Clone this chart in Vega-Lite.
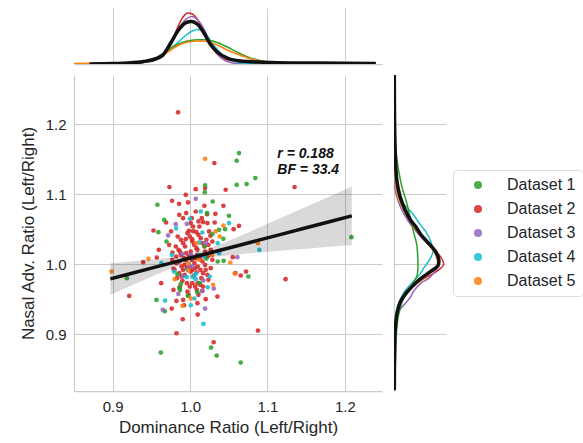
{
  "$schema": "https://vega.github.io/schema/vega-lite/v6.json",
  "padding": {"left": 19, "top": 8, "right": 5, "bottom": 5},
  "background": "white",
  "config": {
    "font": "Liberation Sans",
    "view": {"stroke": null},
    "axis": {
      "labelFont": "Liberation Sans", "titleFont": "Liberation Sans",
      "labelColor": "#262626", "titleColor": "#262626",
      "gridColor": "#cccccc", "domainColor": "#cccccc",
      "labelFontSize": 15, "titleFontSize": 17, "titleFontWeight": "normal",
      "ticks": false, "labelPadding": 8, "gridWidth": 1, "domainWidth": 1.25
    }
  },
  "datasets": {
    "pts": [
      {"x":0.9845,"y":1.2167,"g":"Dataset 2"},{"x":1.0314,"y":1.1443,"g":"Dataset 2"},{"x":0.9733,"y":1.110,"g":"Dataset 2"},{"x":1.0073,"y":1.1071,"g":"Dataset 2"},{"x":1.0194,"y":1.1086,"g":"Dataset 2"},{"x":1.046,"y":1.1062,"g":"Dataset 2"},{"x":1.135,"y":1.110,"g":"Dataset 2"},{"x":0.9944,"y":1.099,"g":"Dataset 2"},{"x":0.9768,"y":1.0905,"g":"Dataset 2"},{"x":0.9858,"y":1.0862,"g":"Dataset 2"},{"x":0.9974,"y":1.0881,"g":"Dataset 2"},{"x":1.0185,"y":1.0833,"g":"Dataset 2"},{"x":1.043,"y":1.0833,"g":"Dataset 2"},{"x":1.0219,"y":1.0714,"g":"Dataset 2"},{"x":1.0327,"y":1.0719,"g":"Dataset 2"},{"x":1.0022,"y":1.0657,"g":"Dataset 2"},{"x":0.969,"y":1.0595,"g":"Dataset 2"},{"x":1.0318,"y":1.0595,"g":"Dataset 2"},{"x":1.0632,"y":1.0548,"g":"Dataset 2"},{"x":1.012,"y":1.0538,"g":"Dataset 2"},{"x":0.9527,"y":1.0481,"g":"Dataset 2"},{"x":0.9755,"y":1.0467,"g":"Dataset 2"},{"x":0.9983,"y":1.0476,"g":"Dataset 2"},{"x":1.0039,"y":1.0471,"g":"Dataset 2"},{"x":1.0082,"y":1.0457,"g":"Dataset 2"},{"x":1.0245,"y":1.0467,"g":"Dataset 2"},{"x":1.0563,"y":1.05,"g":"Dataset 2"},{"x":1.0262,"y":1.0405,"g":"Dataset 2"},{"x":0.9944,"y":1.0357,"g":"Dataset 2"},{"x":1.0026,"y":1.0357,"g":"Dataset 2"},{"x":0.9729,"y":1.0276,"g":"Dataset 2"},{"x":0.9596,"y":1.0205,"g":"Dataset 2"},{"x":0.957,"y":1.0095,"g":"Dataset 2"},{"x":0.9772,"y":1.0167,"g":"Dataset 2"},{"x":0.9867,"y":1.0181,"g":"Dataset 2"},{"x":1.0009,"y":1.0181,"g":"Dataset 2"},{"x":1.0095,"y":1.0205,"g":"Dataset 2"},{"x":1.0194,"y":1.0181,"g":"Dataset 2"},{"x":1.0551,"y":1.01,"g":"Dataset 2"},{"x":0.9394,"y":1.0029,"g":"Dataset 2"},{"x":1.0073,"y":1.0086,"g":"Dataset 2"},{"x":0.9944,"y":1.0062,"g":"Dataset 2"},{"x":0.9824,"y":1.0014,"g":"Dataset 2"},{"x":0.9213,"y":0.9548,"g":"Dataset 2"},{"x":0.9626,"y":0.9729,"g":"Dataset 2"},{"x":0.9785,"y":0.9933,"g":"Dataset 2"},{"x":0.991,"y":0.9919,"g":"Dataset 2"},{"x":1.0009,"y":0.9895,"g":"Dataset 2"},{"x":1.0082,"y":0.9881,"g":"Dataset 2"},{"x":0.9901,"y":0.9762,"g":"Dataset 2"},{"x":1.0047,"y":0.9833,"g":"Dataset 2"},{"x":1.0146,"y":0.98,"g":"Dataset 2"},{"x":1.0237,"y":0.9776,"g":"Dataset 2"},{"x":1.0585,"y":0.9871,"g":"Dataset 2"},{"x":1.0654,"y":0.9838,"g":"Dataset 2"},{"x":1.0723,"y":0.9895,"g":"Dataset 2"},{"x":1.1234,"y":0.9786,"g":"Dataset 2"},{"x":0.9785,"y":0.9633,"g":"Dataset 2"},{"x":0.9966,"y":0.961,"g":"Dataset 2"},{"x":1.0086,"y":0.9633,"g":"Dataset 2"},{"x":1.0159,"y":0.9619,"g":"Dataset 2"},{"x":1.0353,"y":0.9538,"g":"Dataset 2"},{"x":0.9824,"y":0.9476,"g":"Dataset 2"},{"x":0.991,"y":0.949,"g":"Dataset 2"},{"x":1.0095,"y":0.9443,"g":"Dataset 2"},{"x":1.0202,"y":0.95,"g":"Dataset 2"},{"x":0.9763,"y":0.9367,"g":"Dataset 2"},{"x":0.9923,"y":0.9414,"g":"Dataset 2"},{"x":1.0099,"y":0.9281,"g":"Dataset 2"},{"x":0.9905,"y":0.9214,"g":"Dataset 2"},{"x":0.9824,"y":0.9014,"g":"Dataset 2"},{"x":1.0877,"y":0.9052,"g":"Dataset 2"},{"x":1.0305,"y":0.8886,"g":"Dataset 2"},{"x":1.0168,"y":1.06,"g":"Dataset 2"},{"x":1.0009,"y":1.0586,"g":"Dataset 2"},
      {"x":0.984,"y":1.0395,"g":"Dataset 2"},{"x":0.988,"y":1.0348,"g":"Dataset 2"},{"x":0.991,"y":1.03,"g":"Dataset 2"},{"x":0.9935,"y":1.0252,"g":"Dataset 2"},{"x":0.9966,"y":1.0443,"g":"Dataset 2"},{"x":0.9996,"y":1.0395,"g":"Dataset 2"},{"x":1.003,"y":1.0324,"g":"Dataset 2"},{"x":1.0052,"y":1.0276,"g":"Dataset 2"},{"x":1.0082,"y":1.0229,"g":"Dataset 2"},{"x":1.0108,"y":1.0419,"g":"Dataset 2"},{"x":1.0138,"y":1.0371,"g":"Dataset 2"},{"x":1.0159,"y":1.03,"g":"Dataset 2"},{"x":1.0185,"y":1.0252,"g":"Dataset 2"},{"x":1.0211,"y":1.0348,"g":"Dataset 2"},{"x":1.0237,"y":1.0276,"g":"Dataset 2"},{"x":1.0267,"y":1.0205,"g":"Dataset 2"},{"x":1.0288,"y":1.0324,"g":"Dataset 2"},{"x":0.9815,"y":1.0252,"g":"Dataset 2"},{"x":0.985,"y":1.0205,"g":"Dataset 2"},{"x":0.988,"y":1.0133,"g":"Dataset 2"},{"x":0.992,"y":1.0086,"g":"Dataset 2"},{"x":0.995,"y":1.0157,"g":"Dataset 2"},{"x":0.9987,"y":1.011,"g":"Dataset 2"},{"x":1.0022,"y":1.0062,"g":"Dataset 2"},{"x":1.0056,"y":1.0014,"g":"Dataset 2"},{"x":1.009,"y":1.0133,"g":"Dataset 2"},{"x":1.0125,"y":1.0086,"g":"Dataset 2"},{"x":1.0159,"y":1.0038,"g":"Dataset 2"},{"x":1.0194,"y":0.999,"g":"Dataset 2"},{"x":1.0228,"y":1.011,"g":"Dataset 2"},{"x":0.982,"y":1.011,"g":"Dataset 2"},{"x":0.986,"y":1.0038,"g":"Dataset 2"},{"x":0.989,"y":0.9967,"g":"Dataset 2"},{"x":0.993,"y":0.999,"g":"Dataset 2"},{"x":0.996,"y":0.9943,"g":"Dataset 2"},{"x":0.9996,"y":0.9967,"g":"Dataset 2"},{"x":1.003,"y":0.9919,"g":"Dataset 2"},{"x":1.0065,"y":0.9943,"g":"Dataset 2"},{"x":1.0099,"y":0.9967,"g":"Dataset 2"},{"x":1.0133,"y":0.9919,"g":"Dataset 2"},{"x":1.0168,"y":0.9871,"g":"Dataset 2"},{"x":1.0202,"y":0.9919,"g":"Dataset 2"},{"x":0.986,"y":0.9871,"g":"Dataset 2"},{"x":0.989,"y":0.9824,"g":"Dataset 2"},{"x":0.993,"y":0.9848,"g":"Dataset 2"},{"x":0.996,"y":0.9729,"g":"Dataset 2"},{"x":0.9996,"y":0.9681,"g":"Dataset 2"},{"x":1.003,"y":0.9729,"g":"Dataset 2"},{"x":1.0065,"y":0.9681,"g":"Dataset 2"},{"x":1.0099,"y":0.9729,"g":"Dataset 2"},{"x":1.0133,"y":0.9705,"g":"Dataset 2"},{"x":1.0168,"y":0.9681,"g":"Dataset 2"},{"x":1.0224,"y":0.9848,"g":"Dataset 2"},{"x":1.0267,"y":0.9943,"g":"Dataset 2"},{"x":1.0288,"y":1.0062,"g":"Dataset 2"},{"x":0.977,"y":1.0062,"g":"Dataset 2"},{"x":0.98,"y":0.9919,"g":"Dataset 2"},{"x":0.983,"y":0.98,"g":"Dataset 2"},{"x":0.987,"y":0.9681,"g":"Dataset 2"},{"x":0.998,"y":0.9562,"g":"Dataset 2"},{"x":1.0108,"y":0.9562,"g":"Dataset 2"},{"x":1.0039,"y":1.0538,"g":"Dataset 2"},{"x":1.0108,"y":1.061,"g":"Dataset 2"},{"x":1.0224,"y":1.0586,"g":"Dataset 2"},{"x":0.991,"y":1.0657,"g":"Dataset 2"},{"x":0.986,"y":1.0705,"g":"Dataset 2"},{"x":0.995,"y":1.0729,"g":"Dataset 2"},{"x":1.0073,"y":1.0752,"g":"Dataset 2"},{"x":1.0151,"y":1.0657,"g":"Dataset 2"},
      {"x":1.0632,"y":1.1586,"g":"Dataset 1"},{"x":1.0602,"y":1.1476,"g":"Dataset 1"},{"x":1.0843,"y":1.1229,"g":"Dataset 1"},{"x":1.0602,"y":1.1133,"g":"Dataset 1"},{"x":1.0731,"y":1.1143,"g":"Dataset 1"},{"x":1.0194,"y":1.1124,"g":"Dataset 1"},{"x":1.019,"y":1.1024,"g":"Dataset 1"},{"x":1.0292,"y":1.0895,"g":"Dataset 1"},{"x":0.9578,"y":1.0848,"g":"Dataset 1"},{"x":1.0219,"y":1.0729,"g":"Dataset 1"},{"x":1.0503,"y":1.069,"g":"Dataset 1"},{"x":0.9665,"y":1.0633,"g":"Dataset 1"},{"x":1.0374,"y":1.049,"g":"Dataset 1"},{"x":1.0452,"y":1.05,"g":"Dataset 1"},{"x":1.043,"y":1.0362,"g":"Dataset 1"},{"x":0.9695,"y":1.0324,"g":"Dataset 1"},{"x":1.2086,"y":1.0386,"g":"Dataset 1"},{"x":1.0357,"y":1.0038,"g":"Dataset 1"},{"x":1.0434,"y":1.0048,"g":"Dataset 1"},{"x":0.9183,"y":0.98,"g":"Dataset 1"},{"x":0.9837,"y":0.9857,"g":"Dataset 1"},{"x":0.988,"y":0.9719,"g":"Dataset 1"},{"x":1.0753,"y":0.9824,"g":"Dataset 1"},{"x":0.9871,"y":0.9633,"g":"Dataset 1"},{"x":0.9566,"y":0.949,"g":"Dataset 1"},{"x":0.9673,"y":0.9329,"g":"Dataset 1"},{"x":1.0271,"y":0.881,"g":"Dataset 1"},{"x":0.9622,"y":0.8738,"g":"Dataset 1"},{"x":1.0344,"y":0.8695,"g":"Dataset 1"},{"x":1.0654,"y":0.8595,"g":"Dataset 1"},{"x":0.9591,"y":1.0457,"g":"Dataset 1"},{"x":0.997,"y":0.955,"g":"Dataset 1"},{"x":1.0094,"y":0.96,"g":"Dataset 1"},{"x":0.986,"y":0.966,"g":"Dataset 1"},{"x":1.0288,"y":1.0429,"g":"Dataset 1"},{"x":1.0125,"y":0.973,"g":"Dataset 1"},{"x":1.021,"y":1.008,"g":"Dataset 1"},{"x":1.0185,"y":1.0257,"g":"Dataset 1"},
      {"x":1.0073,"y":1.0933,"g":"Dataset 3"},{"x":0.9815,"y":1.0571,"g":"Dataset 3"},{"x":0.9957,"y":1.0576,"g":"Dataset 3"},{"x":0.9716,"y":1.041,"g":"Dataset 3"},{"x":0.9901,"y":1.0148,"g":"Dataset 3"},{"x":1.0611,"y":1.01,"g":"Dataset 3"},{"x":1.0172,"y":0.9767,"g":"Dataset 3"},{"x":1.0306,"y":0.9652,"g":"Dataset 3"},{"x":0.9849,"y":0.9576,"g":"Dataset 3"},{"x":0.9647,"y":0.9348,"g":"Dataset 3"},{"x":1.0194,"y":0.9367,"g":"Dataset 3"},{"x":1.0009,"y":1.0133,"g":"Dataset 3"},{"x":1.0202,"y":1.03,"g":"Dataset 3"},{"x":1.003,"y":0.9967,"g":"Dataset 3"},{"x":1.0155,"y":0.9614,"g":"Dataset 3"},{"x":0.9987,"y":0.9986,"g":"Dataset 3"},{"x":0.991,"y":0.983,"g":"Dataset 3"},
      {"x":1.0138,"y":1.0752,"g":"Dataset 4"},{"x":0.9996,"y":1.0648,"g":"Dataset 4"},{"x":1.0503,"y":1.0586,"g":"Dataset 4"},{"x":0.982,"y":1.051,"g":"Dataset 4"},{"x":1.0159,"y":1.0452,"g":"Dataset 4"},{"x":1.012,"y":1.031,"g":"Dataset 4"},{"x":1.0357,"y":1.03,"g":"Dataset 4"},{"x":1.0895,"y":1.0205,"g":"Dataset 4"},{"x":1.0374,"y":1.0157,"g":"Dataset 4"},{"x":0.963,"y":1.0014,"g":"Dataset 4"},{"x":0.9794,"y":0.9895,"g":"Dataset 4"},{"x":0.9957,"y":0.9814,"g":"Dataset 4"},{"x":1.0073,"y":0.9786,"g":"Dataset 4"},{"x":1.0254,"y":0.9824,"g":"Dataset 4"},{"x":1.0228,"y":0.9671,"g":"Dataset 4"},{"x":0.9677,"y":0.9481,"g":"Dataset 4"},{"x":1.0056,"y":0.951,"g":"Dataset 4"},{"x":1.0009,"y":0.9414,"g":"Dataset 4"},{"x":1.0172,"y":0.9148,"g":"Dataset 4"},{"x":1.0116,"y":1.0133,"g":"Dataset 4"},{"x":1.0185,"y":1.011,"g":"Dataset 4"},{"x":0.9966,"y":0.9919,"g":"Dataset 4"},{"x":1.0073,"y":0.9862,"g":"Dataset 4"},{"x":0.9764,"y":1.0133,"g":"Dataset 4"},{"x":1.0035,"y":0.9819,"g":"Dataset 4"},
      {"x":1.0194,"y":1.1505,"g":"Dataset 5"},{"x":1.043,"y":1.0552,"g":"Dataset 5"},{"x":1.0331,"y":1.0467,"g":"Dataset 5"},{"x":1.0383,"y":1.0395,"g":"Dataset 5"},{"x":1.0877,"y":1.03,"g":"Dataset 5"},{"x":0.9462,"y":1.0076,"g":"Dataset 5"},{"x":1.052,"y":1.0024,"g":"Dataset 5"},{"x":0.8985,"y":0.9895,"g":"Dataset 5"},{"x":0.9802,"y":0.9786,"g":"Dataset 5"},{"x":1.0297,"y":0.9705,"g":"Dataset 5"},{"x":1.0009,"y":0.951,"g":"Dataset 5"},{"x":0.9901,"y":0.9405,"g":"Dataset 5"},{"x":1.0082,"y":1.03,"g":"Dataset 5"},{"x":1.0116,"y":1.0062,"g":"Dataset 5"},{"x":0.9978,"y":0.9909,"g":"Dataset 5"},{"x":0.9974,"y":1.001,"g":"Dataset 5"},{"x":1.0577,"y":0.9866,"g":"Dataset 5"},{"x":1.0284,"y":1.0129,"g":"Dataset 5"}
    ],
    "band": [
      {"x":0.897,"lo":0.9565,"hi":1.0015,"fit":0.979},
      {"x":0.92,"lo":0.9676,"hi":1.0036,"fit":0.9856},
      {"x":0.95,"lo":0.9821,"hi":1.0065,"fit":0.9943},
      {"x":0.98,"lo":0.9958,"hi":1.0100,"fit":1.0029},
      {"x":1.005,"lo":1.0052,"hi":1.0152,"fit":1.0102},
      {"x":1.03,"lo":1.0103,"hi":1.0245,"fit":1.0174},
      {"x":1.06,"lo":1.0138,"hi":1.0382,"fit":1.026},
      {"x":1.09,"lo":1.0167,"hi":1.0527,"fit":1.0347},
      {"x":1.12,"lo":1.0194,"hi":1.0672,"fit":1.0433},
      {"x":1.15,"lo":1.0221,"hi":1.0819,"fit":1.052},
      {"x":1.18,"lo":1.0247,"hi":1.0965,"fit":1.0606},
      {"x":1.209,"lo":1.0273,"hi":1.1107,"fit":1.069}
    ],
    "stats": [
      {"x":1.1127,"y":1.157,"t":"r = 0.188"},
      {"x":1.1127,"y":1.1347,"t":"BF = 33.4"}
    ],
    "topkde": [
      {"g":"All","x":0.87,"d":0},{"g":"All","x":0.9,"d":0.5},{"g":"All","x":0.92,"d":1},{"g":"All","x":0.94,"d":2.5},{"g":"All","x":0.955,"d":5},{"g":"All","x":0.965,"d":9},{"g":"All","x":0.975,"d":21},{"g":"All","x":0.985,"d":34},{"g":"All","x":0.995,"d":41.5},{"g":"All","x":1.002,"d":42.5},{"g":"All","x":1.01,"d":39.5},{"g":"All","x":1.018,"d":31},{"g":"All","x":1.026,"d":20},{"g":"All","x":1.035,"d":12},{"g":"All","x":1.048,"d":6},{"g":"All","x":1.065,"d":3},{"g":"All","x":1.095,"d":1.7},{"g":"All","x":1.13,"d":1},{"g":"All","x":1.2,"d":0.8},{"g":"All","x":1.24,"d":0.5},
      {"g":"Dataset 2","x":0.87,"d":0},{"g":"Dataset 2","x":0.9,"d":0.5},{"g":"Dataset 2","x":0.92,"d":1},{"g":"Dataset 2","x":0.94,"d":2},{"g":"Dataset 2","x":0.955,"d":4},{"g":"Dataset 2","x":0.965,"d":8},{"g":"Dataset 2","x":0.975,"d":19},{"g":"Dataset 2","x":0.983,"d":35},{"g":"Dataset 2","x":0.99,"d":46},{"g":"Dataset 2","x":0.997,"d":51},{"g":"Dataset 2","x":1.003,"d":50},{"g":"Dataset 2","x":1.01,"d":44},{"g":"Dataset 2","x":1.018,"d":33},{"g":"Dataset 2","x":1.026,"d":20},{"g":"Dataset 2","x":1.035,"d":10},{"g":"Dataset 2","x":1.045,"d":5},{"g":"Dataset 2","x":1.055,"d":3},{"g":"Dataset 2","x":1.065,"d":2},{"g":"Dataset 2","x":1.08,"d":1.5},{"g":"Dataset 2","x":1.1,"d":1.2},{"g":"Dataset 2","x":1.14,"d":1},{"g":"Dataset 2","x":1.2,"d":0.3},{"g":"Dataset 2","x":1.24,"d":0},
      {"g":"Dataset 3","x":0.92,"d":0},{"g":"Dataset 3","x":0.94,"d":1.5},{"g":"Dataset 3","x":0.955,"d":4},{"g":"Dataset 3","x":0.965,"d":9},{"g":"Dataset 3","x":0.975,"d":20},{"g":"Dataset 3","x":0.985,"d":35},{"g":"Dataset 3","x":0.995,"d":45},{"g":"Dataset 3","x":1.002,"d":47.5},{"g":"Dataset 3","x":1.01,"d":44},{"g":"Dataset 3","x":1.018,"d":35},{"g":"Dataset 3","x":1.026,"d":22},{"g":"Dataset 3","x":1.035,"d":10},{"g":"Dataset 3","x":1.045,"d":3.5},{"g":"Dataset 3","x":1.055,"d":1},{"g":"Dataset 3","x":1.07,"d":0},
      {"g":"Dataset 4","x":0.92,"d":0},{"g":"Dataset 4","x":0.94,"d":2},{"g":"Dataset 4","x":0.955,"d":5},{"g":"Dataset 4","x":0.965,"d":9},{"g":"Dataset 4","x":0.975,"d":15},{"g":"Dataset 4","x":0.985,"d":22},{"g":"Dataset 4","x":0.995,"d":29},{"g":"Dataset 4","x":1.003,"d":33},{"g":"Dataset 4","x":1.01,"d":34.5},{"g":"Dataset 4","x":1.018,"d":32},{"g":"Dataset 4","x":1.026,"d":24},{"g":"Dataset 4","x":1.035,"d":14.5},{"g":"Dataset 4","x":1.045,"d":7},{"g":"Dataset 4","x":1.055,"d":3},{"g":"Dataset 4","x":1.07,"d":1},{"g":"Dataset 4","x":1.09,"d":0},
      {"g":"Dataset 1","x":0.88,"d":0},{"g":"Dataset 1","x":0.9,"d":0.5},{"g":"Dataset 1","x":0.92,"d":1.5},{"g":"Dataset 1","x":0.94,"d":3},{"g":"Dataset 1","x":0.955,"d":6},{"g":"Dataset 1","x":0.965,"d":10.5},{"g":"Dataset 1","x":0.977,"d":17},{"g":"Dataset 1","x":0.99,"d":21.5},{"g":"Dataset 1","x":1.0,"d":23.5},{"g":"Dataset 1","x":1.01,"d":24.2},{"g":"Dataset 1","x":1.02,"d":24.2},{"g":"Dataset 1","x":1.035,"d":21.5},{"g":"Dataset 1","x":1.048,"d":17},{"g":"Dataset 1","x":1.065,"d":10.3},{"g":"Dataset 1","x":1.082,"d":5},{"g":"Dataset 1","x":1.1,"d":2},{"g":"Dataset 1","x":1.13,"d":0.8},{"g":"Dataset 1","x":1.2,"d":0.5},{"g":"Dataset 1","x":1.24,"d":0.3},
      {"g":"Dataset 5","x":0.85,"d":0.5},{"g":"Dataset 5","x":0.88,"d":1},{"g":"Dataset 5","x":0.92,"d":1.5},{"g":"Dataset 5","x":0.94,"d":2.5},{"g":"Dataset 5","x":0.951,"d":3.7},{"g":"Dataset 5","x":0.964,"d":8},{"g":"Dataset 5","x":0.977,"d":15},{"g":"Dataset 5","x":0.99,"d":20.5},{"g":"Dataset 5","x":1.0,"d":22.3},{"g":"Dataset 5","x":1.01,"d":23},{"g":"Dataset 5","x":1.02,"d":22.8},{"g":"Dataset 5","x":1.035,"d":19},{"g":"Dataset 5","x":1.048,"d":14},{"g":"Dataset 5","x":1.065,"d":8.7},{"g":"Dataset 5","x":1.082,"d":4.3},{"g":"Dataset 5","x":1.1,"d":2},{"g":"Dataset 5","x":1.13,"d":0.5},{"g":"Dataset 5","x":1.16,"d":0}
    ],
    "rightkde": [
      {"g":"All","y":1.27,"d":0.3},{"g":"All","y":1.2,"d":0.6},{"g":"All","y":1.15,"d":1.5},{"g":"All","y":1.12,"d":2.8},{"g":"All","y":1.097,"d":6},{"g":"All","y":1.078,"d":11},{"g":"All","y":1.062,"d":17},{"g":"All","y":1.054,"d":21.5},{"g":"All","y":1.042,"d":27},{"g":"All","y":1.03,"d":34.5},{"g":"All","y":1.017,"d":42},{"g":"All","y":1.006,"d":44.8},{"g":"All","y":0.998,"d":44},{"g":"All","y":0.989,"d":36},{"g":"All","y":0.975,"d":23},{"g":"All","y":0.96,"d":13},{"g":"All","y":0.945,"d":6},{"g":"All","y":0.928,"d":2.8},{"g":"All","y":0.905,"d":1.2},{"g":"All","y":0.87,"d":0.6},{"g":"All","y":0.82,"d":0.3},
      {"g":"Dataset 2","y":1.25,"d":0.2},{"g":"Dataset 2","y":1.2,"d":0.6},{"g":"Dataset 2","y":1.15,"d":1.3},{"g":"Dataset 2","y":1.12,"d":2.3},{"g":"Dataset 2","y":1.097,"d":5},{"g":"Dataset 2","y":1.078,"d":9.5},{"g":"Dataset 2","y":1.062,"d":15.5},{"g":"Dataset 2","y":1.042,"d":26},{"g":"Dataset 2","y":1.03,"d":34},{"g":"Dataset 2","y":1.017,"d":43},{"g":"Dataset 2","y":1.006,"d":48.5},{"g":"Dataset 2","y":0.999,"d":49.5},{"g":"Dataset 2","y":0.99,"d":43},{"g":"Dataset 2","y":0.98,"d":31},{"g":"Dataset 2","y":0.97,"d":19},{"g":"Dataset 2","y":0.96,"d":11},{"g":"Dataset 2","y":0.945,"d":5.5},{"g":"Dataset 2","y":0.928,"d":2.5},{"g":"Dataset 2","y":0.905,"d":1},{"g":"Dataset 2","y":0.87,"d":0.4},{"g":"Dataset 2","y":0.84,"d":0.1},
      {"g":"Dataset 3","y":1.12,"d":0},{"g":"Dataset 3","y":1.1,"d":2},{"g":"Dataset 3","y":1.08,"d":7},{"g":"Dataset 3","y":1.062,"d":14},{"g":"Dataset 3","y":1.042,"d":25},{"g":"Dataset 3","y":1.03,"d":33},{"g":"Dataset 3","y":1.017,"d":41},{"g":"Dataset 3","y":1.006,"d":44},{"g":"Dataset 3","y":0.997,"d":44.5},{"g":"Dataset 3","y":0.99,"d":41},{"g":"Dataset 3","y":0.98,"d":35},{"g":"Dataset 3","y":0.973,"d":27},{"g":"Dataset 3","y":0.96,"d":19},{"g":"Dataset 3","y":0.954,"d":17},{"g":"Dataset 3","y":0.945,"d":12},{"g":"Dataset 3","y":0.935,"d":6},{"g":"Dataset 3","y":0.92,"d":2},{"g":"Dataset 3","y":0.9,"d":0.5},{"g":"Dataset 3","y":0.88,"d":0},
      {"g":"Dataset 4","y":1.13,"d":0},{"g":"Dataset 4","y":1.12,"d":1},{"g":"Dataset 4","y":1.1,"d":4},{"g":"Dataset 4","y":1.089,"d":8},{"g":"Dataset 4","y":1.073,"d":18},{"g":"Dataset 4","y":1.055,"d":27},{"g":"Dataset 4","y":1.046,"d":32},{"g":"Dataset 4","y":1.03,"d":37.5},{"g":"Dataset 4","y":1.018,"d":39},{"g":"Dataset 4","y":1.005,"d":35},{"g":"Dataset 4","y":0.995,"d":30},{"g":"Dataset 4","y":0.984,"d":25},{"g":"Dataset 4","y":0.975,"d":19},{"g":"Dataset 4","y":0.96,"d":10},{"g":"Dataset 4","y":0.945,"d":5},{"g":"Dataset 4","y":0.93,"d":2},{"g":"Dataset 4","y":0.91,"d":0.5},{"g":"Dataset 4","y":0.89,"d":0},
      {"g":"Dataset 1","y":1.19,"d":0.3},{"g":"Dataset 1","y":1.16,"d":2},{"g":"Dataset 1","y":1.135,"d":4.5},{"g":"Dataset 1","y":1.11,"d":8},{"g":"Dataset 1","y":1.087,"d":12.8},{"g":"Dataset 1","y":1.065,"d":16.5},{"g":"Dataset 1","y":1.046,"d":19.5},{"g":"Dataset 1","y":1.03,"d":22.5},{"g":"Dataset 1","y":1.01,"d":23.8},{"g":"Dataset 1","y":0.99,"d":23.8},{"g":"Dataset 1","y":0.984,"d":23},{"g":"Dataset 1","y":0.97,"d":18},{"g":"Dataset 1","y":0.951,"d":9.5},{"g":"Dataset 1","y":0.927,"d":4.5},{"g":"Dataset 1","y":0.903,"d":2.5},{"g":"Dataset 1","y":0.87,"d":1.5},{"g":"Dataset 1","y":0.83,"d":0.8},
      {"g":"Dataset 5","y":1.19,"d":0},{"g":"Dataset 5","y":1.16,"d":0.5},{"g":"Dataset 5","y":1.13,"d":1},{"g":"Dataset 5","y":1.1,"d":3},{"g":"Dataset 5","y":1.08,"d":9},{"g":"Dataset 5","y":1.06,"d":17},{"g":"Dataset 5","y":1.045,"d":24},{"g":"Dataset 5","y":1.03,"d":34},{"g":"Dataset 5","y":1.015,"d":41},{"g":"Dataset 5","y":1.005,"d":43.5},{"g":"Dataset 5","y":0.998,"d":43},{"g":"Dataset 5","y":0.99,"d":38},{"g":"Dataset 5","y":0.98,"d":30},{"g":"Dataset 5","y":0.97,"d":21},{"g":"Dataset 5","y":0.96,"d":13},{"g":"Dataset 5","y":0.945,"d":6},{"g":"Dataset 5","y":0.93,"d":2.5},{"g":"Dataset 5","y":0.91,"d":0.8},{"g":"Dataset 5","y":0.89,"d":0}
    ]
  },
  "columns": 2,
  "bounds": "flush",
  "spacing": {"row": 11, "column": 12},
  "resolve": {"scale": {"color": "independent"}, "legend": {"color": "independent"}},
  "concat": [
    {
      "width": 308, "height": 56,
      "layer": [
        {
          "data": {"name": "topkde"},
          "transform": [{"filter": "datum.g != 'All'"}],
          "mark": {"type": "line", "interpolate": "monotone", "strokeWidth": 1.5, "clip": true},
          "encoding": {
            "x": {"field": "x", "type": "quantitative", "scale": {"domain": [0.85, 1.248], "nice": false, "zero": false}, "axis": {"values": [0.9, 1.0, 1.1, 1.2], "labels": false, "title": null, "grid": true, "domain": true}},
            "y": {"field": "d", "type": "quantitative", "scale": {"domain": [0, 56], "nice": false}, "axis": null},
            "stroke": {"field": "g", "type": "nominal", "scale": {"domain": ["Dataset 1", "Dataset 2", "Dataset 3", "Dataset 4", "Dataset 5"], "range": ["#2ca02c", "#d62728", "#9467bd", "#17becf", "#ff7f0e"]}, "legend": null}
          }
        },
        {
          "data": {"name": "topkde"},
          "transform": [{"filter": "datum.g == 'All'"}],
          "mark": {"type": "line", "interpolate": "monotone", "strokeWidth": 3.5, "color": "#111111", "clip": true},
          "encoding": {
            "x": {"field": "x", "type": "quantitative"},
            "y": {"field": "d", "type": "quantitative"}
          }
        }
      ]
    },
    {
      "width": 52, "height": 56,
      "data": {"values": []},
      "mark": {"type": "point", "opacity": 0},
      "encoding": {}
    },
    {
      "width": 308, "height": 316,
      "layer": [
        {
          "data": {"name": "pts"},
          "mark": {"type": "circle", "size": 22, "opacity": 0.88, "clip": true},
          "encoding": {
            "x": {"field": "x", "type": "quantitative", "scale": {"domain": [0.85, 1.248], "nice": false, "zero": false}, "axis": {"values": [0.9, 1.0, 1.1, 1.2], "format": ".1f", "title": "Dominance Ratio (Left/Right)", "grid": true, "domain": true, "titlePadding": 5}},
            "y": {"field": "y", "type": "quantitative", "scale": {"domain": [0.819, 1.27], "nice": false, "zero": false}, "axis": {"values": [0.9, 1.0, 1.1, 1.2], "format": ".1f", "title": "Nasal Adv. Ratio (Left/Right)", "grid": true, "domain": true, "titlePadding": 8}},
            "color": {"field": "g", "type": "nominal", "scale": {"domain": ["Dataset 1", "Dataset 2", "Dataset 3", "Dataset 4", "Dataset 5"], "range": ["#2ca02c", "#d62728", "#9467bd", "#17becf", "#ff7f0e"]},
              "legend": {"title": null, "orient": "none", "legendX": 379, "legendY": 95, "symbolType": "circle", "symbolSize": 64, "labelFontSize": 16, "labelColor": "#262626", "labelFont": "Liberation Sans", "strokeColor": "#dddddd", "cornerRadius": 4, "padding": 7, "rowPadding": 8, "labelOffset": 21, "symbolOffset": 10, "fillColor": "white", "symbolOpacity": 0.85}}
          }
        },
        {
          "data": {"name": "band"},
          "mark": {"type": "area", "color": "#000000", "opacity": 0.15, "clip": true},
          "encoding": {
            "x": {"field": "x", "type": "quantitative"},
            "y": {"field": "lo", "type": "quantitative"},
            "y2": {"field": "hi"}
          }
        },
        {
          "data": {"name": "band"},
          "mark": {"type": "line", "color": "#111111", "strokeWidth": 3.5, "clip": true},
          "encoding": {
            "x": {"field": "x", "type": "quantitative"},
            "y": {"field": "fit", "type": "quantitative"}
          }
        },
        {
          "data": {"name": "stats"},
          "mark": {"type": "text", "align": "left", "baseline": "middle", "fontSize": 14, "fontWeight": "bold", "fontStyle": "italic", "font": "Liberation Sans", "color": "#111111"},
          "encoding": {
            "x": {"field": "x", "type": "quantitative"},
            "y": {"field": "y", "type": "quantitative"},
            "text": {"field": "t", "type": "nominal"}
          }
        }
      ]
    },
    {
      "width": 52, "height": 316,
      "layer": [
        {
          "data": {"name": "rightkde"},
          "transform": [{"filter": "datum.g != 'All'"}],
          "mark": {"type": "line", "interpolate": "catmull-rom", "strokeWidth": 1.5, "clip": true},
          "encoding": {
            "y": {"field": "y", "type": "quantitative", "scale": {"domain": [0.819, 1.27], "nice": false, "zero": false}, "axis": {"values": [0.9, 1.0, 1.1, 1.2], "labels": false, "title": null, "grid": true, "domain": true}},
            "x": {"field": "d", "type": "quantitative", "scale": {"domain": [0, 52], "nice": false}, "axis": null},
            "stroke": {"field": "g", "type": "nominal", "legend": null},
            "order": {"field": "y", "type": "quantitative"}
          }
        },
        {
          "data": {"name": "rightkde"},
          "transform": [{"filter": "datum.g == 'All'"}],
          "mark": {"type": "line", "interpolate": "catmull-rom", "strokeWidth": 3.5, "color": "#111111", "clip": true},
          "encoding": {
            "y": {"field": "y", "type": "quantitative"},
            "x": {"field": "d", "type": "quantitative"},
            "order": {"field": "y", "type": "quantitative"}
          }
        }
      ]
    }
  ]
}
